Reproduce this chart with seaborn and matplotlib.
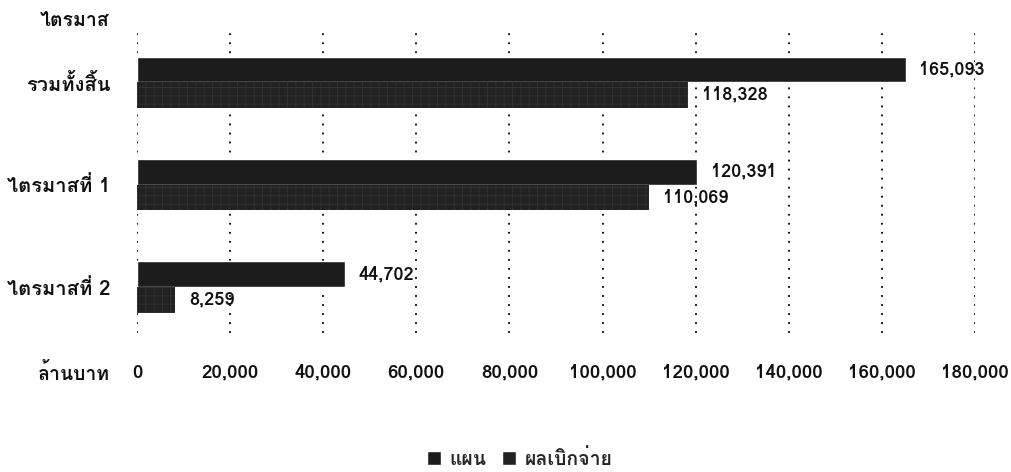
import pandas as pd
import matplotlib.pyplot as plt
import seaborn as sns


sns.set_style('white')
plt.rcParams['font.family'] = ['Loma', 'DejaVu Sans']
plt.rcParams['hatch.linewidth'] = 0.6

# values (million baht)
categories = ['รวมทั้งสิ้น', 'ไตรมาสที่ 1', 'ไตรมาสที่ 2']
series_names = ['แผน', 'ผลเบิกจ่าย']
plan = [165093, 120391, 44702]
actual = [118328, 110069, 8259]
x_ticks = [0, 20000, 40000, 60000, 80000, 100000, 120000, 140000, 160000, 180000]

df = pd.DataFrame({
    'ไตรมาส': categories * 2,
    'ประเภท': [series_names[0]] * len(plan) + [series_names[1]] * len(actual),
    'ล้านบาท': plan + actual,
})

fig = plt.figure(figsize=(10.11, 4.72), dpi=100)
ax = fig.add_axes([0.1355, 0.2945, 0.8289, 0.640])

sns.barplot(data=df, y='ไตรมาส', x='ล้านบาท', hue='ประเภท', orient='h',
            palette=['#1c1c1c', '#222222'], width=0.5, ax=ax,
            saturation=1, legend=True)

# faint patterned fill for the second series, like the printed original
for bar in ax.containers[1]:
    bar.set_hatch('++')
    bar.set_edgecolor('#333333')
    bar.set_linewidth(0)

for cont in ax.containers:
    ax.bar_label(cont, fmt='{:,.0f}', padding=10, fontsize=13,
                 color='#111111', fontweight='bold')

ax.set_xlim(0, 180000)
ax.set_ylim(2.45, -0.5)
ax.set_xticks(x_ticks)
ax.set_xticklabels([f'{v:,}' for v in x_ticks], fontsize=13.5, color='#111111',
                   fontweight='bold')
ax.tick_params(axis='x', length=0, pad=22)
ax.tick_params(axis='y', length=0, pad=19)
for lab in ax.get_yticklabels():
    lab.set_fontsize(14.5)
    lab.set_fontweight('bold')
    lab.set_color('#111111')
ax.set_xlabel('')
ax.set_ylabel('')
ax.grid(axis='x', linestyle=(0, (1, 4)), color='black', linewidth=1.3)
ax.set_axisbelow(True)
sns.despine(ax=ax, left=True, bottom=True)

fig.text(110 / 1011, 1 - 21 / 472, 'ไตรมาส', ha='right', va='center',
         fontsize=14, fontweight='bold', color='#111111')
fig.text(110 / 1011, 1 - 374 / 472, 'ล้านบาท', ha='right', va='center',
         fontsize=14, fontweight='bold', color='#111111')

handles, labels = ax.get_legend_handles_labels()
ax.get_legend().remove()
fig.legend(handles, labels, loc='center', bbox_to_anchor=(0.514, 0.027),
           ncol=2, frameon=False, handlelength=0.72,
           handleheight=0.72, handletextpad=0.45, columnspacing=0.8,
           prop={'weight': 'bold', 'size': 14})

fig.savefig('out.png', dpi=100, facecolor='white')
